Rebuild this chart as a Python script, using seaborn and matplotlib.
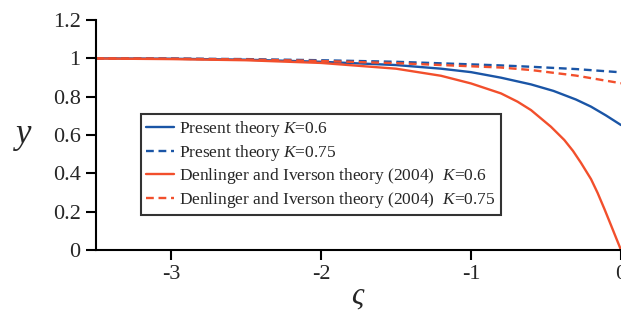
import matplotlib
matplotlib.use("Agg")
import matplotlib.pyplot as plt
import seaborn as sns
import pandas as pd

# ---- data ----
zeta_p06 = [-3.5, -3.0, -2.5, -2.0, -1.5, -1.2, -1.0, -0.8, -0.6, -0.45, -0.3, -0.2, -0.1, 0.0]
present_k06 = [1.0, 0.998, 0.993, 0.982, 0.965, 0.946, 0.928, 0.899, 0.864, 0.83, 0.785, 0.748, 0.702, 0.652]

zeta_p075 = [-3.5, -3.0, -2.5, -2.0, -1.5, -1.2, -0.8, -0.6, -0.3, 0.0]
present_k075 = [1.0, 0.999, 0.996, 0.99, 0.982, 0.974, 0.963, 0.956, 0.944, 0.927]

zeta_d06 = [-3.5, -3.0, -2.5, -2.0, -1.5, -1.2, -1.0, -0.8, -0.69, -0.6, -0.467, -0.378,
            -0.32, -0.267, -0.2, -0.156, -0.11, -0.067, -0.03, 0.0]
di_k06 = [0.999, 0.996, 0.99, 0.976, 0.946, 0.909, 0.869, 0.817, 0.774, 0.73, 0.643, 0.574,
          0.517, 0.455, 0.37, 0.298, 0.213, 0.13, 0.058, 0.0]

zeta_d075 = [-3.5, -3.0, -2.5, -2.0, -1.5, -1.2, -0.8, -0.6, -0.3, 0.0]
di_k075 = [1.0, 0.998, 0.994, 0.986, 0.975, 0.965, 0.952, 0.939, 0.91, 0.87]

labels = ["Present theory $\\mathit{K}$=0.6",
          "Present theory $\\mathit{K}$=0.75",
          "Denlinger and Iverson theory (2004)  $\\mathit{K}$=0.6",
          "Denlinger and Iverson theory (2004)  $\\mathit{K}$=0.75"]

x_ticks = [-3, -2, -1, 0]
x_ticklabels = ["-3", "-2", "-1", "0"]
y_ticks = [0, 0.2, 0.4, 0.6, 0.8, 1.0, 1.2]
y_ticklabels = ["0", "0.2", "0.4", "0.6", "0.8", "1", "1.2"]

sns.set_theme(style="white")
plt.rcParams["font.family"] = ["Liberation Serif", "DejaVu Serif"]
plt.rcParams["mathtext.fontset"] = "custom"
plt.rcParams["mathtext.it"] = "Liberation Serif:italic"
plt.rcParams["mathtext.rm"] = "Liberation Serif"

BLUE = "#1a55a6"
RED = "#f24f2c"
TXT = "#262626"

fig = plt.figure(figsize=(6.21, 3.22), dpi=100)
ax = fig.add_axes([96 / 621, 72 / 322, 525 / 621, 230 / 322])

DASH = (0, (3.3, 2.0))
series = [
    (zeta_p06, present_k06, BLUE, "-", labels[0]),
    (zeta_p075, present_k075, BLUE, DASH, labels[1]),
    (zeta_d06, di_k06, RED, "-", labels[2]),
    (zeta_d075, di_k075, RED, DASH, labels[3]),
]
for xs, ys, c, ls, lab in series:
    df = pd.DataFrame({"x": xs, "y": ys})
    sns.lineplot(data=df, x="x", y="y", ax=ax, color=c, linestyle=ls,
                 linewidth=1.7, label=lab)

ax.set_xlim(-3.5, 0)
ax.set_ylim(0, 1.2)
ax.set_xticks(x_ticks)
ax.set_xticklabels(x_ticklabels)
ax.set_yticks(y_ticks)
ax.set_yticklabels(y_ticklabels)
ax.set_ylabel("")
ax.set_xlabel("")

for s in ["top", "right"]:
    ax.spines[s].set_visible(False)
for s in ["left", "bottom"]:
    ax.spines[s].set_color("black")
    ax.spines[s].set_linewidth(1.5)

ax.tick_params(axis="both", direction="out", length=7.5, width=1.5, color="black",
               labelsize=16, labelcolor=TXT, pad=3.5, left=True, bottom=True)

ax.text(-0.137, 0.504, "y", transform=ax.transAxes, fontsize=25, style="italic",
        ha="center", va="center", color=TXT)
ax.text(0.497, -0.232, "ς", transform=ax.transAxes, fontsize=22, style="italic",
        ha="center", va="baseline", color=TXT)

leg = ax.legend(loc="lower left", bbox_to_anchor=(0.0857, 0.152), borderaxespad=0,
                fontsize=12.5, frameon=True, fancybox=False, handlelength=1.6,
                handletextpad=0.3, labelspacing=0.2, borderpad=0.3)
leg.get_frame().set_edgecolor("black")
leg.get_frame().set_linewidth(1.5)
for t in leg.get_texts():
    t.set_color(TXT)

fig.savefig("out.png", dpi=100)
